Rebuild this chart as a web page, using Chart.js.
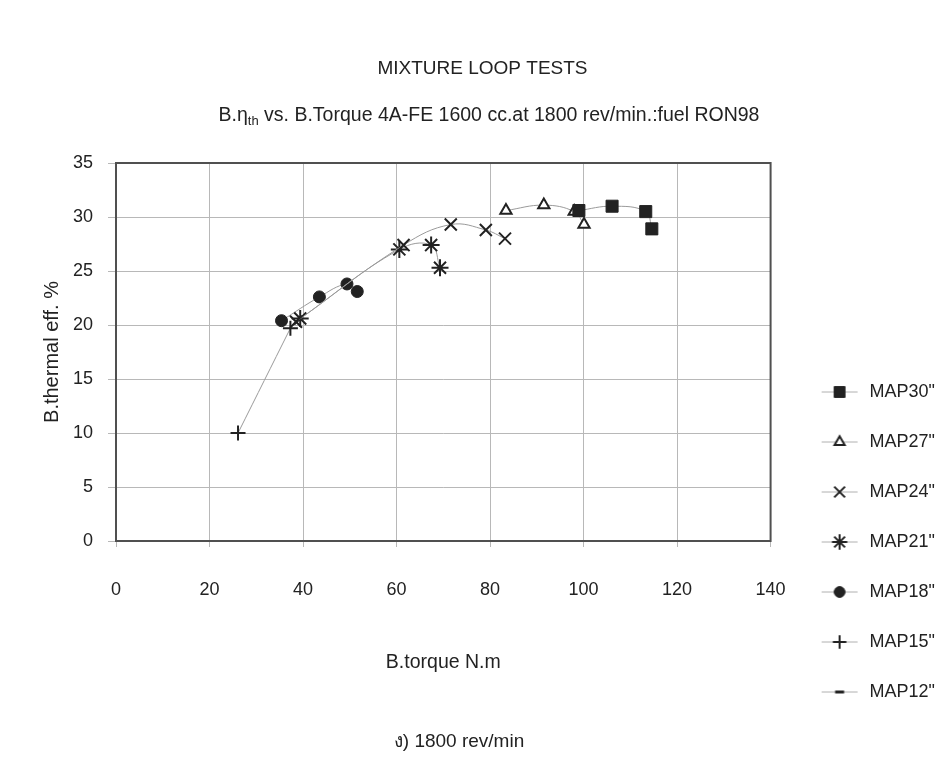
<!DOCTYPE html>
<html>
<head>
<meta charset="utf-8">
<script src="https://cdn.jsdelivr.net/npm/chart.js"></script>
<style>
  body { margin: 0; background: #fff; }
  #chart { display: block; }
</style>
</head>
<body>
<canvas id="chart" width="945" height="757"></canvas>
<script>
// data (torque N.m, brake thermal eff. %)
const seriesNames = ['MAP30"', 'MAP27"', 'MAP24"', 'MAP21"', 'MAP18"', 'MAP15"', 'MAP12"'];

const map30X = [99.0, 106.1, 113.3, 114.6];
const map30Y = [30.6, 31.0, 30.5, 28.9];
const map27X = [83.4, 91.5, 98.0, 100.1];
const map27Y = [30.6, 31.1, 30.5, 29.3];
const map24X = [38.5, 61.5, 71.6, 79.1, 83.2];
const map24Y = [20.3, 27.4, 29.3, 28.8, 28.0];
const map21X = [39.4, 60.6, 67.4, 69.3];
const map21Y = [20.6, 27.0, 27.4, 25.3];
const map18X = [35.4, 43.5, 49.4, 51.6];
const map18Y = [20.4, 22.6, 23.8, 23.1];
const map15X = [26.1, 37.3];
const map15Y = [10.0, 19.7];
const map12X = [];
const map12Y = [];

const xTicks = [0, 20, 40, 60, 80, 100, 120, 140];
const yTicks = [0, 5, 10, 15, 20, 25, 30, 35];

const FONT = '"Liberation Sans", Arial, sans-serif';
const INK = '#222';
const LINE = '#9a9a9a';

function pts(xs, ys) {
  return xs.map((x, i) => ({ x: x, y: ys[i] }));
}

// marker look per series
const markers = [
  { style: 'rect', radius: 8.5, fill: '#222', width: 1 },
  { style: 'triangle', radius: 6.5, fill: '#fff', width: 2 },
  { style: 'crossRot', radius: 8.5, fill: '#222', width: 2 },
  { style: 'star', radius: 8.5, fill: '#222', width: 2 },
  { style: 'circle', radius: 6, fill: '#222', width: 1 },
  { style: 'cross', radius: 7.5, fill: '#222', width: 2 },
  { style: 'line', radius: 5, fill: '#222', width: 3 }
];

const allData = [
  pts(map30X, map30Y), pts(map27X, map27Y), pts(map24X, map24Y),
  pts(map21X, map21Y), pts(map18X, map18Y), pts(map15X, map15Y),
  pts(map12X, map12Y)
];

// legend icon: short line with the marker on it (Excel style)
function legendIcon(m) {
  const c = document.createElement('canvas');
  c.width = 70; c.height = 22;
  const g = c.getContext('2d');
  g.strokeStyle = '#b0b0b0';
  g.lineWidth = 1;
  g.beginPath(); g.moveTo(25, 11); g.lineTo(61, 11); g.stroke();
  g.fillStyle = m.fill;
  g.strokeStyle = '#222';
  g.lineWidth = m.width;
  Chart.helpers.drawPoint(g, { pointStyle: m.style, radius: m.radius * 0.9, borderWidth: m.width, rotation: 0 }, 43, 11);
  return c;
}
const icons = markers.map(legendIcon);

const datasets = seriesNames.map((name, i) => ({
  label: name,
  data: allData[i],
  showLine: true,
  tension: 0.4,
  borderColor: LINE,
  borderWidth: 1,
  pointStyle: markers[i].style,
  pointRadius: markers[i].radius,
  pointBackgroundColor: markers[i].fill,
  pointBorderColor: '#222',
  pointBorderWidth: markers[i].width
}));

// full box around the plot area
const plotFrame = {
  id: 'plotFrame',
  beforeDatasetsDraw(chart) {
    const { ctx, chartArea: a } = chart;
    ctx.save();
    ctx.strokeStyle = '#505050';
    ctx.lineWidth = 2;
    ctx.strokeRect(a.left, a.top, a.right - a.left, a.bottom - a.top);
    ctx.restore();
  }
};

// subtitle with a real subscript, plus the caption under the chart
const texts = {
  id: 'texts',
  afterDraw(chart) {
    const ctx = chart.ctx;
    ctx.save();
    ctx.fillStyle = INK;
    ctx.textBaseline = 'middle';
    ctx.textAlign = 'left';
    const big = '19.5px ' + FONT, small = '13px ' + FONT;
    const parts = [
      ['B.\u03b7', big, 0],
      ['th', small, 5],
      [' vs. B.Torque 4A-FE 1600 cc.at 1800 rev/min.:fuel RON98', big, 0]
    ];
    let total = 0;
    parts.forEach(p => { ctx.font = p[1]; total += ctx.measureText(p[0]).width; });
    let x = 489 - total / 2;
    parts.forEach(p => {
      ctx.font = p[1];
      ctx.fillText(p[0], x, 116 + p[2]);
      x += ctx.measureText(p[0]).width;
    });
    ctx.font = '19px ' + FONT;
    ctx.textAlign = 'center';
    ctx.fillText('ง) 1800 rev/min', 459, 742);
    ctx.restore();
  }
};

new Chart(document.getElementById('chart'), {
  type: 'scatter',
  data: { datasets: datasets },
  options: {
    responsive: false,
    animation: false,
    layout: { padding: { left: 20, right: 0, top: 40, bottom: 24 } },
    scales: {
      x: {
        type: 'linear',
        min: 0, max: 140,
        afterBuildTicks: s => { s.ticks = xTicks.map(v => ({ value: v })); },
        afterFit: s => { s.height = 192; },
        ticks: { padding: 32, color: INK, font: { family: FONT, size: 18 } },
        grid: { color: '#b8b8b8', tickLength: 6 },
        border: { color: '#505050', width: 2 },
        title: { display: true, text: 'B.torque N.m', color: INK, font: { family: FONT, size: 19.5 }, padding: { top: 0, bottom: 58.3 } }
      },
      y: {
        type: 'linear',
        min: 0, max: 35,
        afterBuildTicks: s => { s.ticks = yTicks.map(v => ({ value: v })); },
        afterFit: s => { s.width = 96; },
        ticks: { padding: 15, color: INK, font: { family: FONT, size: 18 } },
        grid: { color: '#b8b8b8', tickLength: 8 },
        border: { color: '#505050', width: 2 },
        title: { display: true, text: 'B.thermal eff. %', color: INK, font: { family: FONT, size: 20 }, padding: { top: 20, bottom: 0 } }
      }
    },
    plugins: {
      title: {
        display: true,
        text: 'MIXTURE LOOP TESTS',
        color: INK,
        font: { family: FONT, size: 19, weight: 'normal' },
        padding: { top: 17.6, bottom: 82.6 }
      },
      legend: {
        position: 'right',
        align: 'end',
        labels: {
          usePointStyle: true,
          pointStyleWidth: 58,
          padding: 32,
          color: INK,
          font: { family: FONT, size: 18 },
          generateLabels: chart => chart.data.datasets.map((ds, i) => ({
            text: ds.label,
            pointStyle: icons[i],
            datasetIndex: i,
            hidden: false,
            lineWidth: 0,
            fontColor: INK
          }))
        }
      },
      tooltip: { enabled: false }
    }
  },
  plugins: [plotFrame, texts]
});
</script>
</body>
</html>
